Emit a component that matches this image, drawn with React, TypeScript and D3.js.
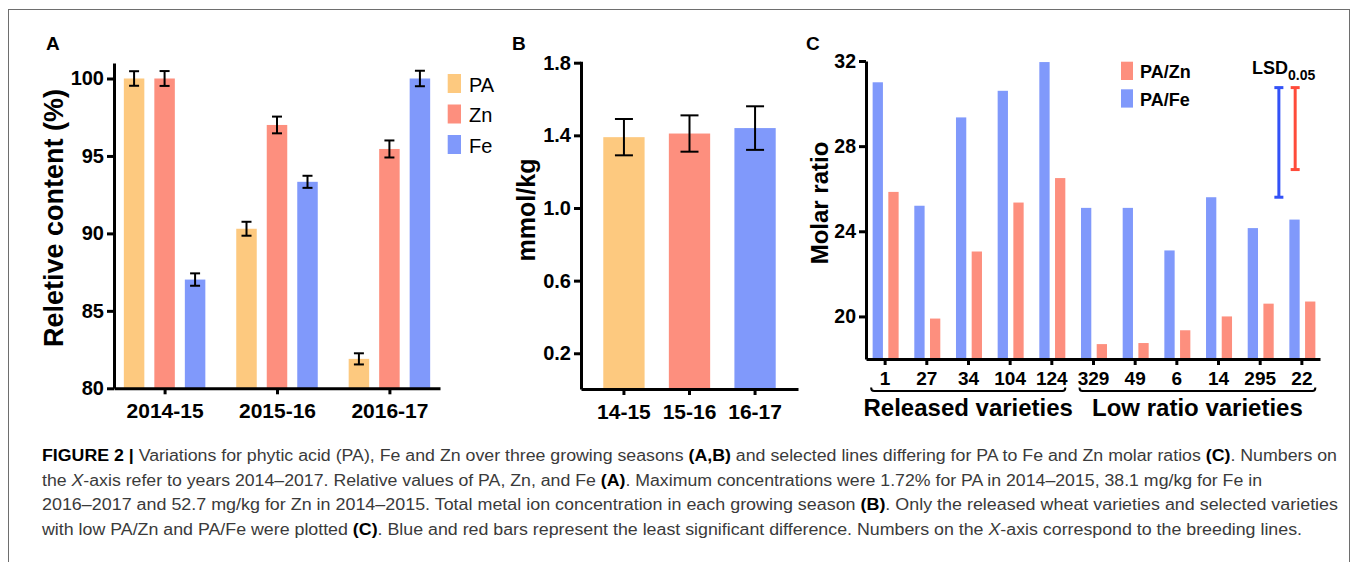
import React, { useEffect, useRef } from "react";
import * as d3 from "d3";

const W = 1357;
const H = 562;
const FONT = "'Liberation Sans', Arial, Helvetica, sans-serif";

// ---- panel A : relative content per season
const seasonsA = ["2014-15", "2015-16", "2016-17"];
const seriesA = ["PA", "Zn", "Fe"];
const paValues = [100, 90.3, 81.9];
const znValues = [100, 97.0, 95.45];
const feValues = [87.02, 93.33, 100];
const paErr = [0.47, 0.45, 0.36];
const znErr = [0.48, 0.54, 0.55];
const feErr = [0.4, 0.39, 0.5];
const ticksA = [80, 85, 90, 95, 100];

// ---- panel B : total concentration
const seasonsB = ["14-15", "15-16", "16-17"];
const totalB = [1.39, 1.41, 1.44];
const errB = [0.1, 0.1, 0.12];
const ticksB = [0.2, 0.6, 1.0, 1.4, 1.8];

// ---- panel C : molar ratios per line
const linesC = ["1", "27", "34", "104", "124", "329", "49", "6", "14", "295", "22"];
const paFe = [31.0, 25.2, 29.35, 30.6, 31.95, 25.1, 25.1, 23.1, 25.6, 24.15, 24.55];
const paZn = [25.85, 19.9, 23.05, 25.35, 26.5, 18.7, 18.75, 19.35, 20.0, 20.6, 20.7];
const ticksC = [20, 24, 28, 32];
const releasedLines = ["1", "27", "34", "104", "124"];
const lowRatioLines = ["329", "49", "6", "14", "295", "22"];
const lsdTop = 30.75;
const lsdFe = 5.15;
const lsdZn = 3.85;

const colors: Record<string, string> = {
  PA: "#fdc97f",
  Zn: "#fd8f7e",
  Fe: "#8099fb",
};

// caption, one array of [text, style] per line
const caption: [string, string][][] = [
  [["FIGURE 2 | ", "b"], ["Variations for phytic acid (PA), Fe and Zn over three growing seasons ", ""], ["(A,B)", "b"], [" and selected lines differing for PA to Fe and Zn molar ratios ", ""], ["(C)", "b"], [". Numbers on", ""]],
  [["the ", ""], ["X", "i"], ["-axis refer to years 2014\u20132017. Relative values of PA, Zn, and Fe ", ""], ["(A)", "b"], [". Maximum concentrations were 1.72% for PA in 2014\u20132015, 38.1 mg/kg for Fe in", ""]],
  [["2016\u20132017 and 52.7 mg/kg for Zn in 2014\u20132015. Total metal ion concentration in each growing season ", ""], ["(B)", "b"], [". Only the released wheat varieties and selected varieties", ""]],
  [["with low PA/Zn and PA/Fe were plotted ", ""], ["(C)", "b"], [". Blue and red bars represent the least significant difference. Numbers on the ", ""], ["X", "i"], ["-axis correspond to the breeding lines.", ""]],
];
const captionWidths = [1295, 1220, 1296, 1260];

function styleAxis(g: any, size: number) {
  g.select(".domain").attr("stroke", "#000").attr("stroke-width", 3);
  g.selectAll(".tick line").attr("stroke", "#000").attr("stroke-width", 3);
  g.selectAll(".tick text")
    .attr("font-size", size)
    .attr("font-weight", "bold")
    .attr("font-family", FONT)
    .attr("fill", "#000");
}

function errorBar(g: any, x: number, y0: number, y1: number, cap: number, color = "#000", sw = 2) {
  g.append("line").attr("x1", x).attr("x2", x).attr("y1", y0).attr("y2", y1)
    .attr("stroke", color).attr("stroke-width", sw);
  [y0, y1].forEach((yy) => {
    g.append("line").attr("x1", x - cap / 2).attr("x2", x + cap / 2).attr("y1", yy).attr("y2", yy)
      .attr("stroke", color).attr("stroke-width", sw);
  });
}

function drawA(svg: any) {
  const g = svg.append("g");
  const x = d3.scalePoint().domain(seasonsA).range([114, 440]).padding(0.45);
  const sub = d3.scaleBand().domain(seriesA).range([-40.75, 40.75]).paddingInner(0.328);
  const y = d3.scaleLinear().domain([80, 101]).range([388.3, 63]);
  const vals: Record<string, number[]> = { PA: paValues, Zn: znValues, Fe: feValues };
  const errs: Record<string, number[]> = { PA: paErr, Zn: znErr, Fe: feErr };

  seriesA.forEach((s) => {
    g.selectAll(null)
      .data(seasonsA)
      .enter()
      .append("rect")
      .attr("x", (d: string) => (x(d) as number) + (sub(s) as number))
      .attr("y", (d: string, i: number) => y(vals[s][i]))
      .attr("width", sub.bandwidth())
      .attr("height", (d: string, i: number) => y(80) - y(vals[s][i]))
      .attr("fill", colors[s]);
  });
  seriesA.forEach((s) => {
    seasonsA.forEach((d, i) => {
      const cx = (x(d) as number) + (sub(s) as number) + sub.bandwidth() / 2;
      errorBar(g, cx, y(vals[s][i] + errs[s][i]), y(vals[s][i] - errs[s][i]), 10);
    });
  });

  const ya = g.append("g").attr("transform", "translate(114,0)")
    .call(d3.axisLeft(y).tickValues(ticksA).tickSize(7).tickSizeOuter(0).tickPadding(3));
  styleAxis(ya, 20);
  const xa = g.append("g").attr("transform", "translate(0,388.3)")
    .call(d3.axisBottom(x).tickSize(6).tickSizeOuter(0).tickPadding(9));
  styleAxis(xa, 21);

  g.append("text")
    .attr("transform", "translate(63,218) rotate(-90)")
    .attr("text-anchor", "middle")
    .attr("font-size", 27).attr("font-weight", "bold").attr("font-family", FONT)
    .text("Reletive content (%)");

  // legend
  seriesA.forEach((s, i) => {
    g.append("rect").attr("x", 447.7).attr("y", 74 + i * 30.5).attr("width", 13.3).attr("height", 19)
      .attr("fill", colors[s]);
    g.append("text").attr("x", 469).attr("y", 91.5 + i * 30.5)
      .attr("font-size", 20).attr("font-family", FONT).text(s);
  });

  g.append("text").attr("x", 46).attr("y", 50).attr("font-size", 19).attr("font-weight", "bold")
    .attr("font-family", FONT).text("A");
}

function drawB(svg: any) {
  const g = svg.append("g");
  const x = d3.scaleBand().domain(seasonsB).range([581, 798]).paddingInner(0.37).paddingOuter(0.34);
  const y = d3.scaleLinear().domain([0, 1.8]).range([389.6, 62.7]);
  const fills = [colors.PA, colors.Zn, colors.Fe];

  g.selectAll(null)
    .data(seasonsB)
    .enter()
    .append("rect")
    .attr("x", (d: string) => x(d))
    .attr("y", (d: string, i: number) => y(totalB[i]))
    .attr("width", x.bandwidth())
    .attr("height", (d: string, i: number) => y(0) - y(totalB[i]))
    .attr("fill", (d: string, i: number) => fills[i]);

  seasonsB.forEach((d, i) => {
    const cx = (x(d) as number) + x.bandwidth() / 2;
    errorBar(g, cx, y(totalB[i] + errB[i]), y(totalB[i] - errB[i]), 18);
  });

  const ya = g.append("g").attr("transform", "translate(581,0)")
    .call(d3.axisLeft(y).tickValues(ticksB).tickFormat(d3.format(".1f")).tickSize(7).tickSizeOuter(0).tickPadding(3));
  styleAxis(ya, 20);
  ya.select(".domain").attr("d", `M0.5,${y(0)}V${y(1.8) - 1}`);
  const xa = g.append("g").attr("transform", `translate(0,${y(0) - 0.6})`)
    .call(d3.axisBottom(x).tickSize(6).tickSizeOuter(0).tickPadding(9));
  styleAxis(xa, 21);

  g.append("text")
    .attr("transform", "translate(535,210) rotate(-90)")
    .attr("text-anchor", "middle")
    .attr("font-size", 25).attr("font-weight", "bold").attr("font-family", FONT)
    .text("mmol/kg");

  g.append("text").attr("x", 512).attr("y", 50).attr("font-size", 19).attr("font-weight", "bold")
    .attr("font-family", FONT).text("B");
}

function drawC(svg: any) {
  const g = svg.append("g");
  const x = d3.scalePoint().domain(linesC).range([866, 1320]).padding(0.447);
  const sub = d3.scaleBand().domain(["PA/Fe", "PA/Zn"]).range([-12, 14]).paddingInner(0.344);
  const y = d3.scaleLinear().domain([18, 32]).range([359, 61]);
  const series: [string, number[], string][] = [
    ["PA/Fe", paFe, colors.Fe],
    ["PA/Zn", paZn, colors.Zn],
  ];

  series.forEach(([name, vals, col]) => {
    g.selectAll(null)
      .data(linesC)
      .enter()
      .append("rect")
      .attr("x", (d: string) => (x(d) as number) + (sub(name) as number))
      .attr("y", (d: string, i: number) => y(vals[i]))
      .attr("width", sub.bandwidth())
      .attr("height", (d: string, i: number) => y(18) - y(vals[i]))
      .attr("fill", col);
  });

  const ya = g.append("g").attr("transform", "translate(866,0)")
    .call(d3.axisLeft(y).tickValues(ticksC).tickSize(7).tickSizeOuter(0).tickPadding(3));
  styleAxis(ya, 19.5);
  const xa = g.append("g").attr("transform", "translate(0,359)")
    .call(d3.axisBottom(x).tickSize(6).tickSizeOuter(0).tickPadding(6.5));
  styleAxis(xa, 19);

  g.append("text")
    .attr("transform", "translate(828,203) rotate(-90)")
    .attr("text-anchor", "middle")
    .attr("font-size", 24).attr("font-weight", "bold").attr("font-family", FONT)
    .text("Molar ratio");

  // brackets and group labels
  [[releasedLines, "Released varieties"], [lowRatioLines, "Low ratio varieties"]].forEach(([ls, label]: any) => {
    const x0 = (x(ls[0]) as number) - 13.5;
    const x1 = (x(ls[ls.length - 1]) as number) + 14;
    g.append("path")
      .attr("d", `M${x0},387.5 Q${x0},391 ${x0 + 3},391 H${x1 - 3} Q${x1},391 ${x1},387.5`)
      .attr("fill", "none").attr("stroke", "#000").attr("stroke-width", 2);
    g.append("text").attr("x", (x0 + x1) / 2).attr("y", 416).attr("text-anchor", "middle")
      .attr("font-size", 24).attr("font-weight", "bold").attr("font-family", FONT).text(label);
  });

  // legend
  series.slice().reverse().forEach(([name, , col], i) => {
    g.append("rect").attr("x", 1121).attr("y", 61.7 + i * 27.6).attr("width", 12).attr("height", 18.3)
      .attr("fill", col);
    g.append("text").attr("x", 1140).attr("y", 78.3 + i * 27.6)
      .attr("font-size", 18).attr("font-weight", "bold").attr("font-family", FONT).text(name);
  });

  // LSD bars
  const xl = x("22") as number;
  errorBar(g, xl - 22.5, y(lsdTop), y(lsdTop - lsdFe), 9, "#3352f7", 3);
  errorBar(g, xl - 6.2, y(lsdTop), y(lsdTop - lsdZn), 9, "#ff4b3a", 3);
  const lsd = g.append("text").attr("x", 1252).attr("y", 74)
    .attr("font-size", 18).attr("font-weight", "bold").attr("font-family", FONT);
  lsd.append("tspan").text("LSD");
  lsd.append("tspan").attr("dy", 6).attr("font-size", 14).text("0.05");

  g.append("text").attr("x", 806).attr("y", 50).attr("font-size", 19).attr("font-weight", "bold")
    .attr("font-family", FONT).text("C");
}

function drawCaption(svg: any) {
  const g = svg.append("g");
  caption.forEach((segs, i) => {
    const t = g.append("text")
      .attr("x", 42).attr("y", 461 + i * 24.6)
      .attr("font-size", 16).attr("font-family", FONT).attr("fill", "#3a3a3a")
      .attr("textLength", captionWidths[i]).attr("lengthAdjust", "spacingAndGlyphs")
      .style("white-space", "pre");
    segs.forEach(([txt, st]) => {
      const ts = t.append("tspan").text(txt);
      if (st === "b") ts.attr("font-weight", "bold").attr("fill", "#000");
      if (st === "i") ts.attr("font-style", "italic");
    });
  });
}

export default function App() {
  const ref = useRef<SVGSVGElement>(null);

  useEffect(() => {
    const svg = d3.select(ref.current);
    svg.selectAll("*").remove();
    svg.append("rect").attr("x", 8.5).attr("y", 9.5).attr("width", 1341).attr("height", 620)
      .attr("fill", "none").attr("stroke", "#6e6e6e").attr("stroke-width", 1);
    drawA(svg);
    drawB(svg);
    drawC(svg);
    drawCaption(svg);
  }, []);

  return (
    <svg
      ref={ref}
      width={W}
      height={H}
      style={{ position: "absolute", left: 0, top: 0, background: "#fff" }}
    />
  );
}
